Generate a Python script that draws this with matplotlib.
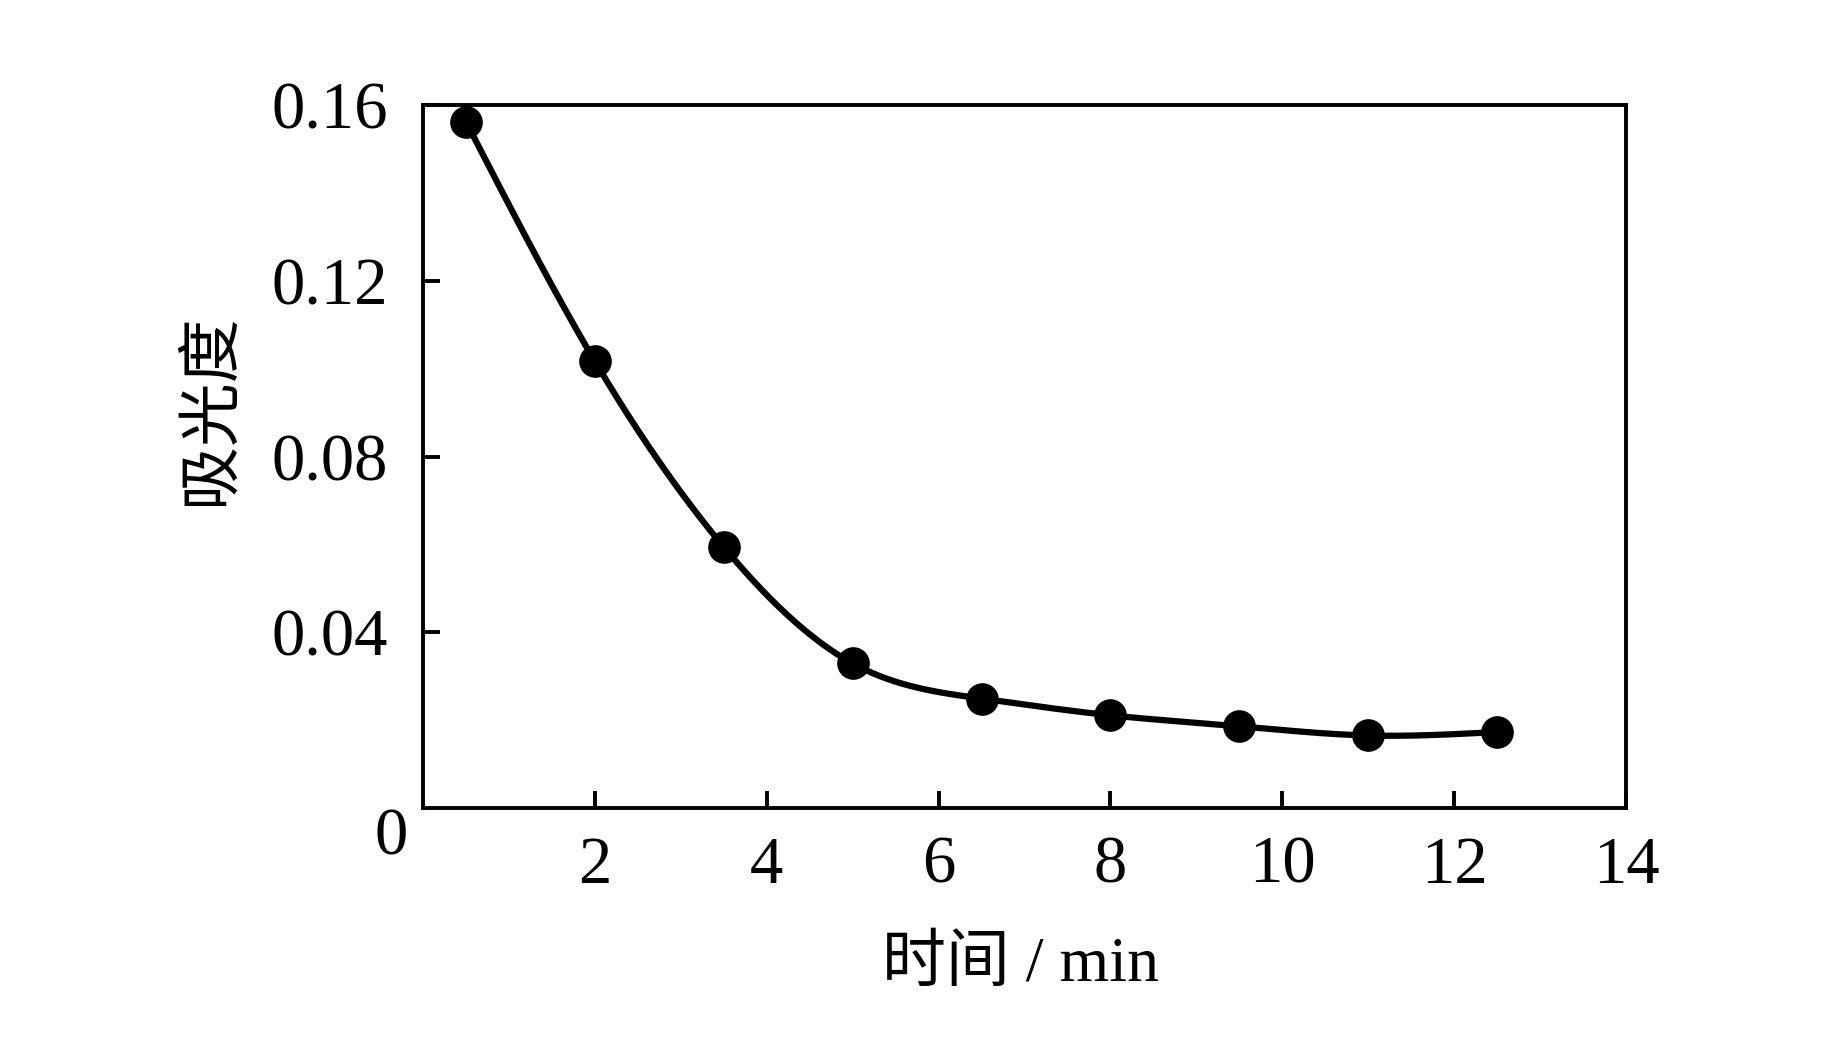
import matplotlib
matplotlib.use("Agg")
import matplotlib.pyplot as plt
import numpy as np

plt.rcParams['font.family'] = ['Liberation Serif', 'Noto Sans CJK SC', 'DejaVu Sans']

# data
time_min = [0.5, 2.0, 3.5, 5.0, 6.5, 8.0, 9.5, 11.0, 12.5]
absorbance = [0.1562, 0.1017, 0.0594, 0.0329, 0.0249, 0.0211, 0.0186, 0.0165, 0.0173]
x_ticks = [2, 4, 6, 8, 10, 12, 14]
y_ticks = [0.04, 0.08, 0.12, 0.16]
y_tick_labels = ['0.04', '0.08', '0.12', '0.16']


def natural_spline(x, y, n=400):
    # plain natural cubic spline, just for drawing the smooth line
    x = np.asarray(x, float)
    y = np.asarray(y, float)
    h = np.diff(x)
    m = len(x)
    A = np.zeros((m, m))
    b = np.zeros(m)
    A[0, 0] = A[-1, -1] = 1.0
    for i in range(1, m - 1):
        A[i, i - 1] = h[i - 1]
        A[i, i] = 2 * (h[i - 1] + h[i])
        A[i, i + 1] = h[i]
        b[i] = 6 * ((y[i + 1] - y[i]) / h[i] - (y[i] - y[i - 1]) / h[i - 1])
    M = np.linalg.solve(A, b)
    xs = np.linspace(x[0], x[-1], n)
    k = np.clip(np.searchsorted(x, xs) - 1, 0, m - 2)
    t0 = x[k + 1] - xs
    t1 = xs - x[k]
    hk = h[k]
    ys = (M[k] * t0 ** 3 + M[k + 1] * t1 ** 3) / (6 * hk) \
        + (y[k] / hk - M[k] * hk / 6) * t0 + (y[k + 1] / hk - M[k + 1] * hk / 6) * t1
    return xs, ys


fig = plt.figure(figsize=(18.43, 10.63), dpi=100)
ax = fig.add_axes([0.2295, 0.2399, 0.6528, 0.6613])

sx, sy = natural_spline(time_min, absorbance)
ax.plot(sx, sy, color='black', lw=4.5, solid_capstyle='round', zorder=2)
ax.plot(time_min, absorbance, 'o', color='black', markersize=22.5, zorder=3)

ax.set_xlim(0, 14)
ax.set_ylim(0, 0.16)
ax.set_xticks(x_ticks)
ax.set_yticks(y_ticks)
ax.set_yticklabels(y_tick_labels)

for s in ax.spines.values():
    s.set_linewidth(2.8)
ax.tick_params(axis='both', direction='in', length=12.5, width=2.8,
               labelsize=48, top=False, right=False)
ax.tick_params(axis='x', pad=20)
ax.tick_params(axis='y', pad=25)

# the lone "0" sits below the corner
ax.text(-0.013, 0.0, '0', transform=ax.transAxes, ha='right', va='top',
        fontsize=48)

ax.text(0.497, -0.225, '时间 / min', transform=ax.transAxes, ha='center',
        va='center', fontsize=46)
ax.text(-0.175, 0.568, '吸光度', transform=ax.transAxes, ha='center',
        va='center', rotation=90, fontsize=46)

fig.savefig('out.png', dpi=100)
